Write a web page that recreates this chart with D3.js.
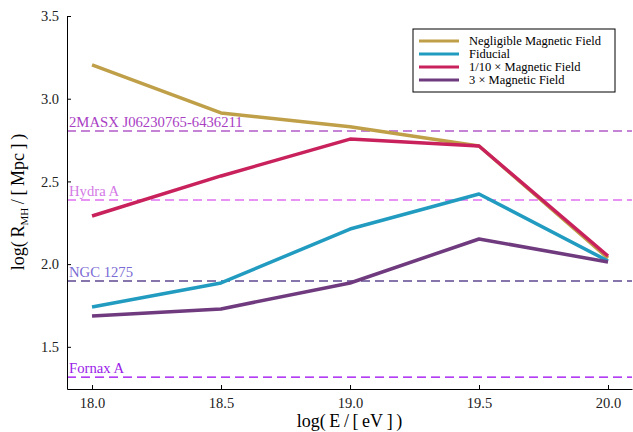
<!doctype html>
<html>
  <head>
    <script src="https://cdn.jsdelivr.net/npm/d3@7"></script>
    <style>
      body { margin: 0; background: #fff; }
      svg text { font-family: "Liberation Serif", "Times New Roman", "DejaVu Serif", serif !important; }
    </style>
  </head>
  <body>
    <svg id="chart" width="633" height="432"></svg>
    <script>
      // energies, log(E/eV)
      var energies = [18.0, 18.5, 19.0, 19.5, 20.0];

      var seriesNames = ["Negligible Magnetic Field", "Fiducial", "1/10 \u00d7 Magnetic Field", "3 \u00d7 Magnetic Field"];
      var negligible = [3.204, 2.914, 2.83, 2.714, 2.036];
      var fiducial = [1.741, 1.886, 2.212, 2.424, 2.019];
      var tenth = [2.291, 2.533, 2.756, 2.714, 2.049];
      var triple = [1.686, 1.729, 1.886, 2.152, 2.013];
      var seriesColors = ["#bf9f48", "#219cc0", "#c8215c", "#6f3a7e"];

      // reference sources (horizontal dashed lines)
      var sourceNames = ["2MASX J06230765-6436211", "Hydra A", "NGC 1275", "Fornax A"];
      var sourceValues = [2.805, 2.388, 1.898, 1.317];
      var sourceColors = ["#b35bc9", "#e070f0", "#5e4890", "#9900ee"];
      var sourceTextColors = ["#a940c4", "#d47ae6", "#7a6ad4", "#9a1ae8"];

      var xTicks = [18.0, 18.5, 19.0, 19.5, 20.0];
      var yTicks = [1.5, 2.0, 2.5, 3.0, 3.5];

      var svg = d3.select("#chart");
      var plotL = 67, plotR = 632, plotT = 16, plotB = 389;

      var x = d3.scaleLinear().domain([17.903, 20.093]).range([plotL, plotR]);
      var y = d3.scaleLinear().domain([1.245, 3.5]).range([plotB, plotT]);

      // dashed source lines
      sourceValues.forEach((v, i) => {
        svg.append("line")
          .attr("x1", plotL).attr("x2", plotR)
          .attr("y1", y(v)).attr("y2", y(v))
          .style("stroke", sourceColors[i])
          .style("stroke-width", 1.4)
          .style("stroke-dasharray", "9,5");
        svg.append("text")
          .attr("x", plotL + 2)
          .attr("y", y(v) - 4)
          .style("font-size", "14.7px")
          .style("fill", sourceTextColors[i])
          .text(sourceNames[i]);
      });

      // series
      var allSeries = [negligible, fiducial, tenth, triple];
      var line = d3.line()
        .x((d, i) => x(energies[i]))
        .y(d => y(d));

      allSeries.forEach((s, i) => {
        svg.append("path")
          .datum(s)
          .attr("d", line)
          .style("fill", "none")
          .style("stroke", seriesColors[i])
          .style("stroke-width", 3.5)
          .style("stroke-linejoin", "round");
      });

      // axes
      var xAxis = svg.append("g")
        .attr("transform", `translate(0,${plotB})`)
        .call(d3.axisBottom(x).tickValues(xTicks).tickFormat(d3.format(".1f")).tickSizeInner(-4).tickSizeOuter(0).tickPadding(9));
      var yAxis = svg.append("g")
        .attr("transform", `translate(${plotL},0)`)
        .call(d3.axisLeft(y).tickValues(yTicks).tickFormat(d3.format(".1f")).tickSizeInner(-4).tickSizeOuter(0).tickPadding(8));
      [xAxis, yAxis].forEach(a => {
        a.attr("font-family", null);
        a.select(".domain").style("stroke", "#000").style("stroke-width", 1);
        a.selectAll(".tick line").style("stroke", "#000");
        a.selectAll(".tick text").style("font-size", "14.5px").style("fill", "#222");
      });

      // axis labels
      svg.append("text")
        .attr("x", (plotL + plotR) / 2)
        .attr("y", 427)
        .attr("text-anchor", "middle")
        .style("font-size", "18px")
        .html("log(&#8201;E&#8201;/&#8201;[&#8201;eV&#8201;]&#8201;)");

      var yl = svg.append("text")
        .attr("transform", "translate(24,202) rotate(-90)")
        .attr("text-anchor", "middle")
        .style("font-size", "18px");
      yl.append("tspan").text("log(\u2009R");
      yl.append("tspan").attr("dy", 4).style("font-size", "11px").text("MH");
      yl.append("tspan").attr("dy", -4).text("\u2009/\u2009[\u2009Mpc\u2009]\u2009)");

      // legend
      var lg = svg.append("g").attr("transform", "translate(413,29)");
      lg.append("rect")
        .attr("width", 202).attr("height", 63)
        .style("fill", "#fff").style("stroke", "#000").style("stroke-width", 1);
      seriesNames.forEach((n, i) => {
        var ly = 12 + i * 13;
        lg.append("line")
          .attr("x1", 6).attr("x2", 46)
          .attr("y1", ly).attr("y2", ly)
          .style("stroke", seriesColors[i])
          .style("stroke-width", 3);
        lg.append("text")
          .attr("x", 56).attr("y", ly + 4)
          .style("font-size", "12.5px")
          .text(n);
      });
    </script>
  </body>
</html>
